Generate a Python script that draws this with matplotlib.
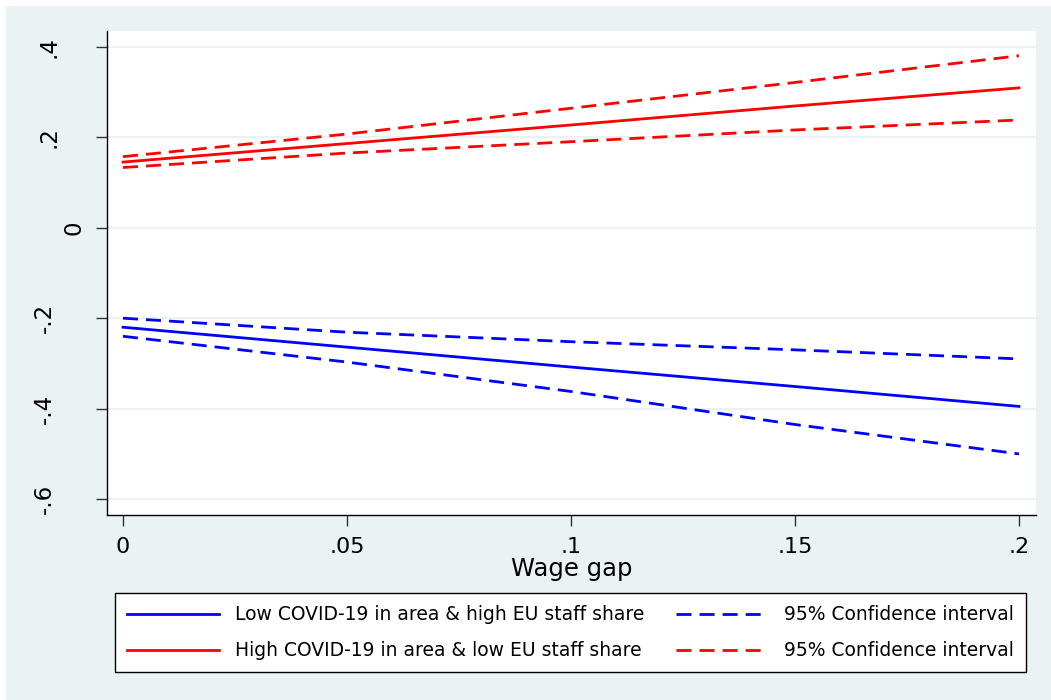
import matplotlib
matplotlib.use("Agg")
import matplotlib.pyplot as plt
import matplotlib.transforms as mtransforms
from matplotlib.patches import Rectangle

# Predicted effect by wage gap, with 95% confidence bands
wage_gap = [0.0, 0.05, 0.10, 0.15, 0.20]

low_fit = [-0.220, -0.264, -0.308, -0.351, -0.395]
low_upper = [-0.200, -0.231, -0.252, -0.270, -0.290]
low_lower = [-0.240, -0.297, -0.362, -0.435, -0.500]

high_fit = [0.145, 0.186, 0.227, 0.269, 0.309]
high_upper = [0.157, 0.207, 0.264, 0.321, 0.380]
high_lower = [0.133, 0.165, 0.190, 0.216, 0.238]

x_ticks = [0, 0.05, 0.10, 0.15, 0.20]
x_labels = ["0", ".05", ".1", ".15", ".2"]
y_ticks = [0.4, 0.2, 0.0, -0.2, -0.4, -0.6]
y_labels = [".4", ".2", "0", "-.2", "-.4", "-.6"]

label_low = "Low COVID-19 in area & high EU staff share"
label_high = "High COVID-19 in area & low EU staff share"
label_ci = "95% Confidence interval"

BG = "#EAF2F3"
W, H = 1051, 700

plt.rcParams["font.family"] = "DejaVu Sans"

fig = plt.figure(figsize=(W / 100, H / 100), dpi=100)
fig.patch.set_facecolor("white")
fig.add_artist(Rectangle((6 / W, 0), 1 - 6 / W, 1 - 6 / H, transform=fig.transFigure,
                         facecolor=BG, edgecolor="none", zorder=-1))

ax = fig.add_axes([107 / W, (H - 515) / H, (1036 - 107) / W, (515 - 31) / H])
ax.set_facecolor("white")

lw = 2.0
dash = (5.4, 2.9)
ax.plot(wage_gap, low_fit, color="#0000FF", lw=lw, label=label_low, zorder=3)
ax.plot(wage_gap, low_upper, color="#0000FF", lw=lw, dashes=dash, label=label_ci, zorder=3)
ax.plot(wage_gap, low_lower, color="#0000FF", lw=lw, dashes=dash, zorder=3)
ax.plot(wage_gap, high_fit, color="#FF0000", lw=lw, label=label_high, zorder=3)
ax.plot(wage_gap, high_upper, color="#FF0000", lw=lw, dashes=dash, label=label_ci, zorder=3)
ax.plot(wage_gap, high_lower, color="#FF0000", lw=lw, dashes=dash, zorder=3)

ax.set_xlim(-0.00357, 0.2038)
ax.set_ylim(-0.635, 0.4347)

ax.set_xticks(x_ticks)
ax.set_xticklabels(x_labels, fontsize=16)
ax.set_yticks(y_ticks)
ax.set_yticklabels(y_labels, fontsize=16.5, rotation=90, va="center")
ax.tick_params(axis="x", length=8, width=1, color="#333333", pad=8)
ax.tick_params(axis="y", length=8, width=1, color="#333333", pad=25.5)

# nudge the rotated y labels the way the original axis places them
shifts = {"0": 25, "-.2": -5, "-.4": -5, "-.6": -5}
for lab in ax.get_yticklabels():
    dx = shifts.get(lab.get_text(), 0)
    if dx:
        lab.set_transform(lab.get_transform() +
                          mtransforms.ScaledTranslation(dx / 100, 0, fig.dpi_scale_trans))

ax.yaxis.grid(True, color=BG, lw=1.6, zorder=1)
ax.set_axisbelow(True)
for side in ["top", "right"]:
    ax.spines[side].set_visible(False)
for side in ["left", "bottom"]:
    ax.spines[side].set_linewidth(1.0)
    ax.spines[side].set_color("black")

ax.set_xlabel("Wage gap", fontsize=17.5, labelpad=0)

handles, labels = ax.get_legend_handles_labels()
order = [0, 2, 1, 3]
leg = fig.legend([handles[i] for i in order], [labels[i] for i in order],
                 loc="upper left", bbox_to_anchor=(115 / W, (H - 593) / H, (1026 - 115) / W, 0),
                 mode="expand", ncol=2, fontsize=13.5, frameon=True, fancybox=False,
                 edgecolor="black", facecolor="white", framealpha=1,
                 handlelength=4.9, handletextpad=0.85, labelspacing=0.9,
                 borderpad=0.65, borderaxespad=0, columnspacing=1.5)
leg.get_frame().set_linewidth(1.0)

fig.savefig("out.png", dpi=100, facecolor=fig.get_facecolor())
